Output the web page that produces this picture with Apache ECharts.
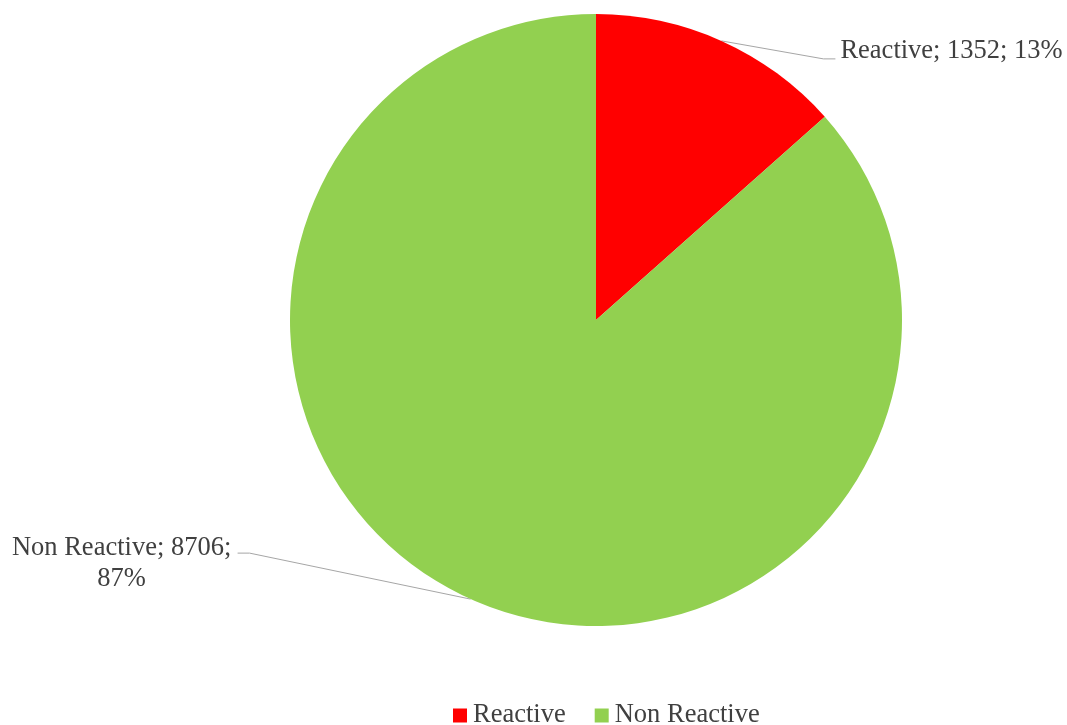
<!DOCTYPE html>
<html>
<head>
<meta charset="utf-8">
<script src="https://cdn.jsdelivr.net/npm/echarts@6/dist/echarts.min.js"></script>
<style>
html,body{margin:0;padding:0;background:#fff;}
#chart{width:1067px;height:725px;}
</style>
</head>
<body>
<div id="chart"></div>
<script>
const categories = ['Reactive', 'Non Reactive'];
const values = [1352, 8706];
const colors = ['#FF0000', '#92D050'];

const chart = echarts.init(document.getElementById('chart'), null, {renderer: 'canvas'});
const font = '"Liberation Serif", "Times New Roman", serif';

const option = {
  backgroundColor: '#ffffff',
  animation: false,
  color: colors,
  legend: {
    data: categories,
    left: 448,
    top: 697,
    itemWidth: 14,
    itemHeight: 14,
    itemGap: 29,
    icon: 'rect',
    textStyle: {fontFamily: font, fontSize: 26.5, color: '#404040', padding: [0, 0, 0, 1]}
  },
  series: [{
    type: 'pie',
    center: [596, 320],
    radius: 306,
    startAngle: 90,
    clockwise: true,
    percentPrecision: 0,
    data: categories.map((c, i) => ({name: c, value: values[i]})),
    itemStyle: {borderWidth: 0},
    emphasis: {disabled: true},
    label: {
      show: true,
      fontFamily: font,
      fontSize: 26.5,
      lineHeight: 31,
      color: '#404040',
      formatter: p => p.name.length > 10 ? `${p.name}; ${p.value};\n${p.percent}%` : `${p.name}; ${p.value}; ${p.percent}%`
    },
    labelLine: {show: true, lineStyle: {color: '#A6A6A6', width: 1}},
    labelLayout: function (params) {
      const p0 = params.labelLinePoints ? params.labelLinePoints[0] : [0, 0];
      if (params.dataIndex === 0) {
        return {
          x: p0[0] + 119, y: p0[1] + 10, align: 'left', verticalAlign: 'middle',
          labelLinePoints: [p0, [p0[0] + 102, p0[1] + 18], [p0[0] + 114, p0[1] + 18]]
        };
      } else {
        return {
          x: p0[0] - 349, y: p0[1] - 36, align: 'center', verticalAlign: 'middle',
          labelLinePoints: [p0, [p0[0] - 221, p0[1] - 46], [p0[0] - 233, p0[1] - 46]]
        };
      }
    }
  }]
};
chart.setOption(option);
</script>
</body>
</html>
